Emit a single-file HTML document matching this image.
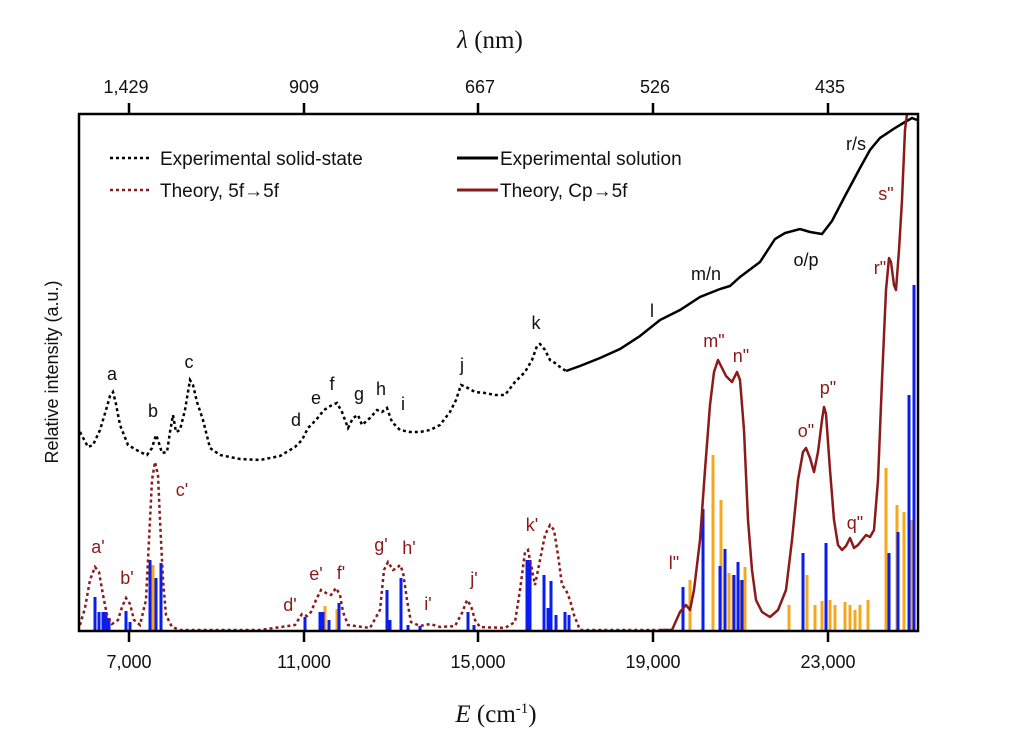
<!DOCTYPE html>
<html><head><meta charset="utf-8"><style>
html,body{margin:0;padding:0;background:#fff;}
svg{display:block;font-family:"Liberation Sans",Arial,sans-serif;}
</style></head><body>
<svg width="1024" height="748" viewBox="0 0 1024 748" xmlns="http://www.w3.org/2000/svg">
<rect width="1024" height="748" fill="#fff"/>
<!-- sticks -->
<g stroke-width="3">
<g stroke="#f5a81c">
<line x1="153" y1="631" x2="153" y2="565"/><line x1="337" y1="631" x2="337" y2="609"/><line x1="325" y1="631" x2="325" y2="606"/>
<line x1="690" y1="631" x2="690" y2="580"/><line x1="713" y1="631" x2="713" y2="455"/><line x1="721" y1="631" x2="721" y2="500"/>
<line x1="729" y1="631" x2="729" y2="573"/><line x1="733" y1="631" x2="733" y2="575"/><line x1="740" y1="631" x2="740" y2="580"/><line x1="745" y1="631" x2="745" y2="567"/>
<line x1="789" y1="631" x2="789" y2="605"/><line x1="807" y1="631" x2="807" y2="575"/><line x1="815" y1="631" x2="815" y2="605"/><line x1="822" y1="631" x2="822" y2="601"/>
<line x1="830" y1="631" x2="830" y2="600"/><line x1="835" y1="631" x2="835" y2="605"/><line x1="845" y1="631" x2="845" y2="602"/><line x1="850" y1="631" x2="850" y2="605"/>
<line x1="855" y1="631" x2="855" y2="610"/><line x1="860" y1="631" x2="860" y2="605"/><line x1="868" y1="631" x2="868" y2="600"/>
<line x1="886" y1="631" x2="886" y2="468"/><line x1="897" y1="631" x2="897" y2="505"/><line x1="904" y1="631" x2="904" y2="512"/><line x1="911" y1="631" x2="911" y2="520"/>
</g>
<g stroke="#0a1cf0">
<line x1="95" y1="631" x2="95" y2="597"/><line x1="99" y1="631" x2="99" y2="612"/><line x1="103" y1="631" x2="103" y2="612"/><line x1="106" y1="631" x2="106" y2="612"/><line x1="109" y1="631" x2="109" y2="618"/>
<line x1="126" y1="631" x2="126" y2="611"/><line x1="130" y1="631" x2="130" y2="622"/>
<line x1="150" y1="631" x2="150" y2="560"/><line x1="156" y1="631" x2="156" y2="578"/><line x1="161" y1="631" x2="161" y2="563"/>
<line x1="305" y1="631" x2="305" y2="617"/><line x1="320" y1="631" x2="320" y2="612"/><line x1="323" y1="631" x2="323" y2="612"/><line x1="329" y1="631" x2="329" y2="620"/><line x1="339" y1="631" x2="339" y2="603"/>
<line x1="387" y1="631" x2="387" y2="590"/><line x1="390" y1="631" x2="390" y2="620"/><line x1="401" y1="631" x2="401" y2="578"/>
<line x1="408" y1="631" x2="408" y2="625"/><line x1="420" y1="631" x2="420" y2="626"/><line x1="468" y1="631" x2="468" y2="612"/><line x1="474" y1="631" x2="474" y2="625"/>
<line x1="527" y1="631" x2="527" y2="560"/><line x1="530" y1="631" x2="530" y2="560"/><line x1="544" y1="631" x2="544" y2="575"/><line x1="548" y1="631" x2="548" y2="608"/>
<line x1="551" y1="631" x2="551" y2="581"/><line x1="556" y1="631" x2="556" y2="615"/><line x1="565" y1="631" x2="565" y2="612"/><line x1="569" y1="631" x2="569" y2="615"/>
<line x1="683" y1="631" x2="683" y2="587"/><line x1="703" y1="631" x2="703" y2="509"/><line x1="720" y1="631" x2="720" y2="566"/><line x1="725" y1="631" x2="725" y2="549"/>
<line x1="734" y1="631" x2="734" y2="575"/><line x1="738" y1="631" x2="738" y2="562"/><line x1="742" y1="631" x2="742" y2="580"/>
<line x1="803" y1="631" x2="803" y2="553"/><line x1="826" y1="631" x2="826" y2="543"/><line x1="889" y1="631" x2="889" y2="553"/><line x1="898" y1="631" x2="898" y2="532"/>
<line x1="909" y1="631" x2="909" y2="395"/><line x1="914" y1="631" x2="914" y2="285"/>
</g>
</g>
<!-- experimental solid-state dotted -->
<polyline fill="none" stroke="#000" stroke-width="2.5" stroke-dasharray="3,3" points="80,432 88,447 93,445 100,430 106,410 110,396 113,392 116,404 120,425 128,445 140,452 147,455 152,448 156,435 158,440 162,453 167,452 170,432 173,415 176,432 180,430 185,410 190,380 193,385 197,402 203,420 210,448 220,455 240,459 260,460 280,456 295,447 302,440 308,428 316,420 324,410 332,405 337,403 342,412 348,428 353,418 358,415 362,425 370,418 377,410 382,412 387,408 392,422 400,430 410,432 420,432 430,430 440,425 450,412 456,400 461,385 466,387 475,392 485,393 495,395 505,395 515,382 525,372 532,360 537,346 540,344 545,350 550,360 555,363 560,367 566,371"/>
<!-- experimental solution -->
<polyline fill="none" stroke="#000" stroke-width="2.5" points="566,371 580,366 600,358 620,349 640,336 660,320 680,310 700,297 720,289 730,286 740,277 760,262 775,239 785,233 800,229 810,232 822,234 832,221 845,196 860,168 870,150 880,138 895,128 905,122 912,118 917,120"/>
<!-- theory 5f->5f dotted -->
<polyline fill="none" stroke="#8b1a1a" stroke-width="2.5" stroke-dasharray="3,3" points="80,625 85,608 90,580 95,567 99,572 103,595 107,615 112,624 118,620 122,607 126,598 130,604 134,620 140,625 146,600 149,540 152,480 155,462 158,475 160,520 163,580 166,615 172,627 180,630 260,630 295,625 302,614 307,616 311,612 316,600 321,590 326,593 331,595 336,588 340,595 343,612 348,625 370,628 380,610 384,570 388,562 393,570 397,568 400,565 403,572 407,600 411,622 420,626 430,624 440,627 455,626 462,613 467,600 471,606 475,620 480,627 505,628 515,622 520,590 525,552 528,550 531,565 535,585 540,560 545,535 550,525 554,530 558,555 562,585 566,590 570,600 574,615 580,630 672,630"/>
<!-- theory Cp->5f -->
<polyline fill="none" stroke="#8b1a1a" stroke-width="2.5" stroke-linejoin="round" points="660,630 672,630 680,612 686,605 690,610 694,590 700,540 705,470 710,405 714,372 718,360 722,368 726,376 732,382 737,372 740,380 744,430 748,520 752,570 756,600 762,612 770,617 778,610 786,590 792,540 798,480 803,452 806,448 810,458 814,472 818,452 822,420 824,407 826,414 830,470 834,520 838,545 842,550 846,546 850,538 854,548 858,545 862,540 866,535 870,537 874,530 878,480 882,380 886,290 889,258 891,262 894,285 896,290 899,250 902,200 905,130 907,114"/>
<!-- frame -->
<rect x="79" y="114" width="839" height="517" fill="none" stroke="#000" stroke-width="2.5"/>
<g stroke="#000" stroke-width="2.5">
<line x1="129" y1="631" x2="129" y2="642"/><line x1="304" y1="631" x2="304" y2="642"/><line x1="478" y1="631" x2="478" y2="642"/><line x1="653" y1="631" x2="653" y2="642"/><line x1="828" y1="631" x2="828" y2="642"/>
<line x1="129" y1="114" x2="129" y2="103"/><line x1="304" y1="114" x2="304" y2="103"/><line x1="478" y1="114" x2="478" y2="103"/><line x1="653" y1="114" x2="653" y2="103"/><line x1="828" y1="114" x2="828" y2="103"/>
</g>
<g font-size="18" text-anchor="middle" fill="#111">
<text x="129" y="668">7,000</text><text x="304" y="668">11,000</text><text x="478" y="668">15,000</text><text x="653" y="668">19,000</text><text x="828" y="668">23,000</text>
<text x="126" y="93">1,429</text><text x="304" y="93">909</text><text x="480" y="93">667</text><text x="655" y="93">526</text><text x="830" y="93">435</text>
</g>
<text x="490" y="48" font-family="Liberation Serif,serif" font-size="25" text-anchor="middle" fill="#111"><tspan font-style="italic">λ</tspan> (nm)</text>
<text x="496" y="722" font-family="Liberation Serif,serif" font-size="25" text-anchor="middle" fill="#111"><tspan font-style="italic">E</tspan> (cm<tspan font-size="15" dy="-9">-1</tspan><tspan dy="9">)</tspan></text>
<text transform="translate(58,372) rotate(-90)" font-size="18" text-anchor="middle" fill="#111">Relative intensity (a.u.)</text>
<!-- legend -->
<line x1="110" y1="158" x2="152" y2="158" stroke="#000" stroke-width="2.5" stroke-dasharray="3,3"/>
<line x1="110" y1="190" x2="152" y2="190" stroke="#8b1a1a" stroke-width="2.5" stroke-dasharray="3,3"/>
<line x1="457" y1="158" x2="498" y2="158" stroke="#000" stroke-width="3"/>
<line x1="457" y1="190" x2="498" y2="190" stroke="#8b1a1a" stroke-width="3"/>
<g font-size="19" fill="#111">
<text x="160" y="165">Experimental solid-state</text><text x="500" y="165">Experimental solution</text>
<text x="160" y="197">Theory, 5f→5f</text><text x="500" y="197">Theory, Cp→5f</text>
</g>
<!-- peak labels -->
<g font-size="18" text-anchor="middle" fill="#111">
<text x="112" y="380">a</text><text x="153" y="417">b</text><text x="189" y="368">c</text><text x="296" y="426">d</text><text x="316" y="404">e</text><text x="332" y="390">f</text><text x="359" y="400">g</text><text x="381" y="395">h</text><text x="403" y="410">i</text><text x="462" y="371">j</text><text x="536" y="329">k</text><text x="652" y="317">l</text><text x="706" y="280">m/n</text><text x="806" y="266">o/p</text><text x="856" y="150">r/s</text>
</g>
<g font-size="18" text-anchor="middle" fill="#8b1a1a">
<text x="98" y="553">a'</text><text x="127" y="584">b'</text><text x="182" y="496">c'</text><text x="290" y="611">d'</text><text x="316" y="580">e'</text><text x="341" y="579">f'</text><text x="381" y="551">g'</text><text x="409" y="554">h'</text><text x="428" y="610">i'</text><text x="474" y="585">j'</text><text x="532" y="531">k'</text><text x="674" y="569">l"</text><text x="714" y="347">m"</text><text x="741" y="362">n"</text><text x="806" y="437">o"</text><text x="828" y="394">p"</text><text x="855" y="529">q"</text><text x="880" y="274">r"</text><text x="886" y="200">s"</text>
</g>
</svg>
</body></html>
